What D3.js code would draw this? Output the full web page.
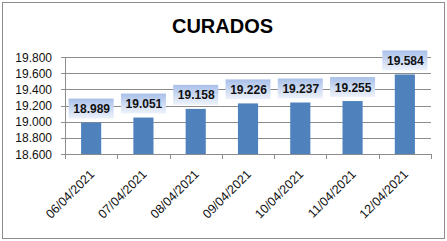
<!DOCTYPE html>
<html>
<head>
<meta charset="utf-8">
<script src="https://cdn.jsdelivr.net/npm/d3@7"></script>
<style>
  body { margin: 0; background: #fff; }
  svg { display: block; font-family: "Liberation Sans", Arial, sans-serif; }
</style>
</head>
<body>
<div id="chart"></div>
<script>
// chart data
const title = "CURADOS";
const dates = ["06/04/2021", "07/04/2021", "08/04/2021", "09/04/2021", "10/04/2021", "11/04/2021", "12/04/2021"];
const curados = [18989, 19051, 19158, 19226, 19237, 19255, 19584];
const yTicks = [18600, 18800, 19000, 19200, 19400, 19600, 19800];

const width = 447, height = 241;
const margin = { top: 57, right: 16, bottom: 87, left: 65 };

// spanish style number format: 19.800
const es = d3.formatLocale({ decimal: ",", thousands: ".", grouping: [3], currency: ["", "€"] });
const fmt = es.format(",");

const svg = d3.select("#chart").append("svg")
    .attr("width", width)
    .attr("height", height);

// outer frame
svg.append("rect")
    .attr("x", 2.5).attr("y", 2.5)
    .attr("width", width - 5).attr("height", height - 5)
    .attr("fill", "#fff")
    .attr("stroke", "#8c8c8c");

const x = d3.scaleBand()
    .domain(dates)
    .range([margin.left, width - margin.right]);

const y = d3.scaleLinear()
    .domain([18600, 19800])
    .range([height - margin.bottom, margin.top]);

// gradient for the value labels
const grad = svg.append("defs").append("linearGradient")
    .attr("id", "lblGrad")
    .attr("x1", 0).attr("y1", 0).attr("x2", 0).attr("y2", 1);
grad.append("stop").attr("offset", "0%").attr("stop-color", "#a9c0e9");
grad.append("stop").attr("offset", "100%").attr("stop-color", "#eef3fb");

// title
svg.append("text")
    .attr("x", width / 2 - 1)
    .attr("y", 33)
    .attr("text-anchor", "middle")
    .attr("font-size", 20)
    .attr("font-weight", "bold")
    .attr("fill", "#000")
    .text(title);

// gridlines
svg.append("g")
    .selectAll("line")
    .data(yTicks)
    .join("line")
    .attr("x1", margin.left - 4)
    .attr("x2", width - margin.right)
    .attr("y1", d => Math.round(y(d)) + 0.5)
    .attr("y2", d => Math.round(y(d)) + 0.5)
    .attr("stroke", "#8c8c8c");

// y tick labels
svg.append("g")
    .selectAll("text")
    .data(yTicks)
    .join("text")
    .attr("x", margin.left - 13)
    .attr("y", d => y(d) + 4.5)
    .attr("text-anchor", "end")
    .attr("font-size", 12)
    .attr("fill", "#111")
    .text(d => fmt(d));

// y axis line
svg.append("line")
    .attr("x1", margin.left + 0.5).attr("x2", margin.left + 0.5)
    .attr("y1", y(19800)).attr("y2", y(18600))
    .attr("stroke", "#8c8c8c");

// x tick marks at category boundaries
const bounds = dates.map(d => x(d)).concat([width - margin.right]);
svg.append("g")
    .selectAll("line")
    .data(bounds)
    .join("line")
    .attr("x1", d => Math.round(d) + 0.5)
    .attr("x2", d => Math.round(d) + 0.5)
    .attr("y1", y(18600))
    .attr("y2", y(18600) + 5)
    .attr("stroke", "#8c8c8c");

// bars
const barW = x.bandwidth() * 0.385;
svg.append("g")
    .selectAll("rect")
    .data(curados)
    .join("rect")
    .attr("x", (d, i) => x(dates[i]) + x.bandwidth() / 2 - barW / 2)
    .attr("y", d => y(d))
    .attr("width", barW)
    .attr("height", d => y(18600) - y(d))
    .attr("fill", "#4f81bd");

// value labels with gradient boxes
const lbl = svg.append("g")
    .selectAll("g")
    .data(curados)
    .join("g")
    .attr("transform", (d, i) => `translate(${x(dates[i]) + x.bandwidth() / 2},${y(d) - 4})`);

lbl.append("rect")
    .attr("x", -22.5)
    .attr("y", -20)
    .attr("width", 45)
    .attr("height", 20)
    .attr("fill", "url(#lblGrad)");

lbl.append("text")
    .attr("x", 0.5)
    .attr("y", -5.5)
    .attr("text-anchor", "middle")
    .attr("font-size", 12)
    .attr("font-weight", "bold")
    .attr("fill", "#111")
    .text(d => fmt(d));

// rotated date labels
svg.append("g")
    .selectAll("text")
    .data(dates)
    .join("text")
    .attr("transform", d => `translate(${x(d) + x.bandwidth() / 2 + 4},${y(18600) + 21}) rotate(-45)`)
    .attr("text-anchor", "end")
    .attr("font-size", 12.5)
    .attr("fill", "#111")
    .text(d => d);
</script>
</body>
</html>
